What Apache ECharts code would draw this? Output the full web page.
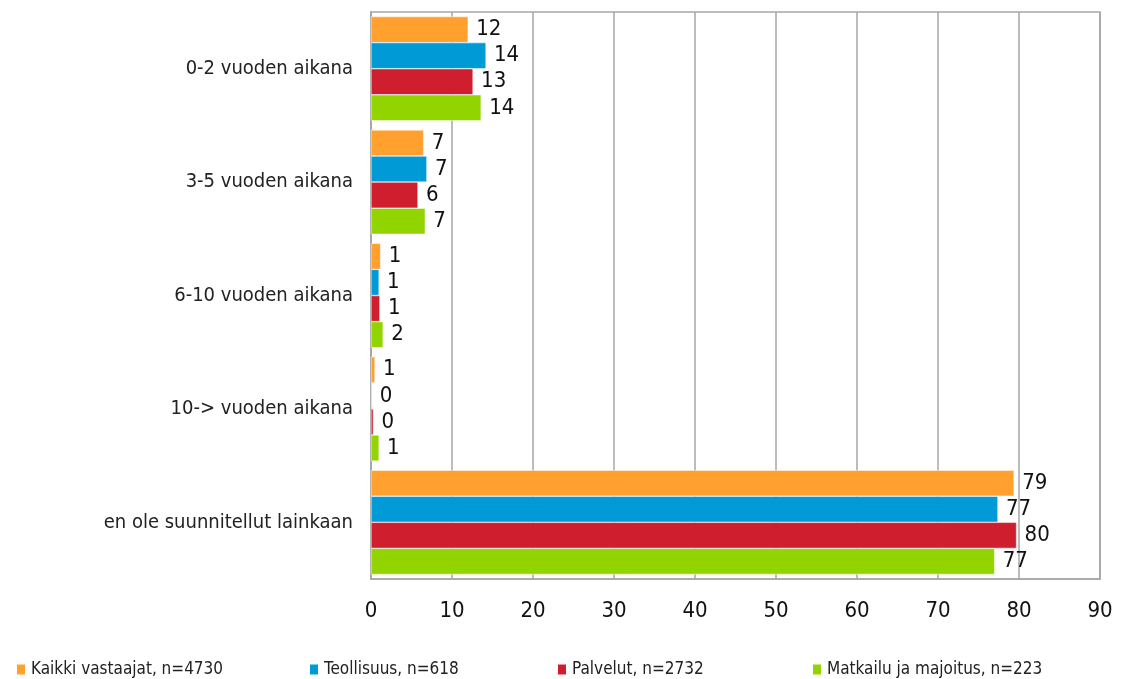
<!DOCTYPE html>
<html><head><meta charset="utf-8">
<script src="https://cdn.jsdelivr.net/npm/echarts@6/dist/echarts.min.js"></script>
<style>html,body{margin:0;padding:0;background:#fff}#c{width:1127px;height:679px}</style>
</head><body><div id="c"></div>
<script>
const categories = ["0-2 vuoden aikana","3-5 vuoden aikana","6-10 vuoden aikana","10-> vuoden aikana","en ole suunnitellut lainkaan"];
const seriesNames = ["Kaikki vastaajat, n=4730","Teollisuus, n=618","Palvelut, n=2732","Matkailu ja majoitus, n=223"];
const kaikki = [12.0, 6.5, 1.2, 0.5, 79.4];
const teollisuus = [14.2, 6.9, 1.0, 0.1, 77.4];
const palvelut = [12.6, 5.8, 1.1, 0.3, 79.7];
const matkailu = [13.6, 6.7, 1.5, 1.0, 77.0];
const xTicks = [0,10,20,30,40,50,60,70,80,90];
const colors = ["#FFA02F","#009AD6","#CF1F2F","#92D400"];
const FONT = "'Liberation Sans Narrow','DejaVu Sans Condensed',sans-serif";
const values = [kaikki, teollisuus, palvelut, matkailu];
const legendLefts = [10, 303, 551, 806];
const chart = echarts.init(document.getElementById('c'));
chart.setOption({
  animation:false,
  grid:{left:371, right:27, top:12, bottom:100, show:true, borderColor:'#a6a6a6', borderWidth:1.5},
  legend: seriesNames.map((n,i)=>({data:[n], left:legendLefts[i], top:656, itemWidth:10, itemHeight:12, itemGap:4,
    icon:'path://M0,0H10V12H0Z', textStyle:{fontFamily:FONT, fontSize:17, color:'#222'}})),
  xAxis:{type:'value', min:0, max:90, interval:10,
    axisLine:{show:true, lineStyle:{color:'#a6a6a6', width:1.5}}, axisTick:{show:false},
    splitLine:{show:true, lineStyle:{color:'#a6a6a6', width:1.5}},
    axisLabel:{fontFamily:FONT, fontSize:22, color:'#111', margin:21, formatter:v=>xTicks.includes(v)?String(v):''}},
  yAxis:{type:'category', data:categories, inverse:true,
    axisLine:{show:true, lineStyle:{color:'#a6a6a6', width:1.5}}, axisTick:{show:false},
    axisLabel:{fontFamily:FONT, fontSize:20, color:'#222', margin:18}},
  series: seriesNames.map((n,i)=>({name:n, type:'bar', data:values[i], barGap:'0%', barCategoryGap:'8%',
    itemStyle:{color:colors[i], borderColor:'#fff', borderWidth:0.5},
    label:{show:true, position:'right', distance:8, fontFamily:FONT, fontSize:22, color:'#111',
      formatter:p=>Math.round(p.value)}}))
});
</script></body></html>
